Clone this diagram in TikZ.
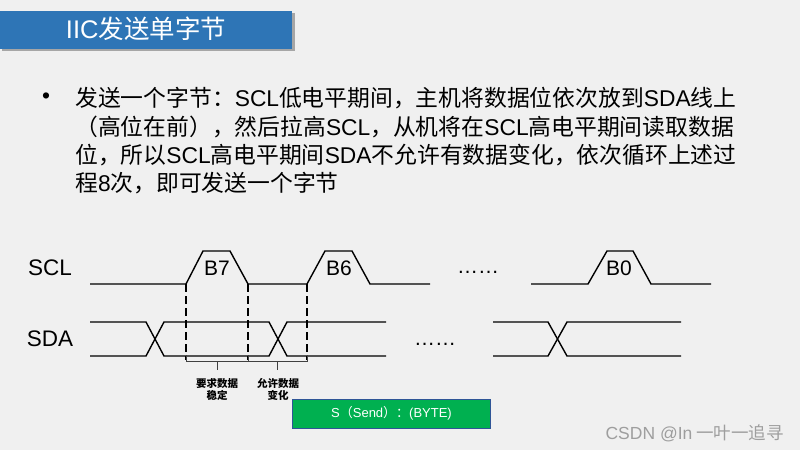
\documentclass[tikz,border=0pt]{standalone}
\usepackage{fontspec}
\setmainfont{Noto Sans CJK SC}
\newfontfamily\latinfont{Liberation Sans}
\newcommand\latxt[1]{{\latinfont #1}}

\definecolor{bggray}{HTML}{F0F0F0}
\definecolor{titleblue}{HTML}{2E75B6}
\definecolor{sendgreen}{HTML}{00B050}
\definecolor{sendedge}{HTML}{2F5597}

\tikzset{
  wave/.style={line width=1.4pt,black},
  guide/.style={line width=1.7pt,dash pattern=on 8pt off 4pt},
  bracket/.style={line width=0.9pt,black!75},
  body/.style={anchor=west,inner sep=0pt,font=\fontsize{22.8}{27}\selectfont},
  signame/.style={inner sep=0pt,font=\latinfont\fontsize{22.5}{27}\selectfont},
  bitname/.style={inner sep=0pt,font=\latinfont\fontsize{21}{25}\selectfont},
  dots/.style={inner sep=0pt,font=\latinfont\fontsize{21}{24}\selectfont},
  note/.style={inner sep=0pt,align=center,font=\bfseries\fontsize{10.5}{12}\selectfont}
}

\begin{document}
\begin{tikzpicture}[x=1pt,y=-1pt]
  \fill[bggray](0,0)rectangle(800,450);
  \useasboundingbox(0,0)rectangle(800,450);

  % title bar
  \fill[black!35](2,13)rectangle(295,51);
  \fill[titleblue](0,11)rectangle(292,49);
  \node[text=white,inner sep=0pt,font=\fontsize{25.5}{28}\selectfont] (title) at (146,29) {\latxt{IIC}发送单字节};

  % bullet text
  \node[body] (dot) at (42,98) {\latxt{•}};
  \node[body] (line1) at (75,98) {发送一个字节：\latxt{SCL}低电平期间，主机将数据位依次放到\latxt{SDA}线上};
  \node[body] (line2) at (75,127) {（高位在前），然后拉高\latxt{SCL}，从机将在\latxt{SCL}高电平期间读取数据};
  \node[body] (line3) at (75,155) {位，所以\latxt{SCL}高电平期间\latxt{SDA}不允许有数据变化，依次循环上述过};
  \node[body] (line4) at (75,183) {程\latxt{8}次，即可发送一个字节};

  % signal names
  \node[signame] (scl) at (50,268) {SCL};
  \node[signame] (sda) at (50,339) {SDA};

  % SCL
  \draw[wave](90,284)--(186,284)--(203,251)--(230,251)--(248,284)--(307,284)
    --(325,251)--(352,251)--(370,284)--(430,284);
  \draw[wave](531,284)--(588,284)--(607,251)--(633,251)--(651,284)--(711,284);
  \foreach \x/\s in {217/B7,339/B6,619/B0}
    \node[bitname] (bit\s) at (\x,268) {\s};
  \node[dots] (sclgap) at (478,272) {……};

  % SDA
  \draw[wave](90,322)--(146,322)--(164,356)--(269,356)--(287,322)--(386,322);
  \draw[wave](90,356)--(146,356)--(164,322)--(269,322)--(287,356)--(386,356);
  \draw[wave](493,322)--(548,322)--(567,356)--(681,356);
  \draw[wave](493,356)--(548,356)--(567,322)--(681,322);
  \node[dots] (sdagap) at (435,344) {……};

  % guides and brackets
  \foreach \x in {186,248,307}
    \draw[guide](\x,284)--(\x,360);
  \draw[bracket](186,355)--(186,361)--(307,361)--(307,355);
  \draw[bracket](248,355)--(248,361);
  \draw[bracket](217,361)--(217,370);
  \draw[bracket](277,361)--(277,370);
  \node[note] (stable) at (217,389) {要求数据\\稳定};
  \node[note] (change) at (278,389) {允许数据\\变化};

  % byte box
  \node[draw=sendedge,fill=sendgreen,line width=1pt,minimum width=198pt,minimum height=29pt,
    text=white,font=\fontsize{13}{15}\selectfont] (send) at (391.5,413.5)
    {\latxt{S}（\latxt{Send}）：\latxt{(BYTE)}};

  % watermark
  \node[anchor=east,inner sep=0pt,text=black!38,font=\fontsize{17.5}{20}\selectfont] (mark) at (784,433)
    {\latxt{CSDN @In} 一叶一追寻};
\end{tikzpicture}
\end{document}
